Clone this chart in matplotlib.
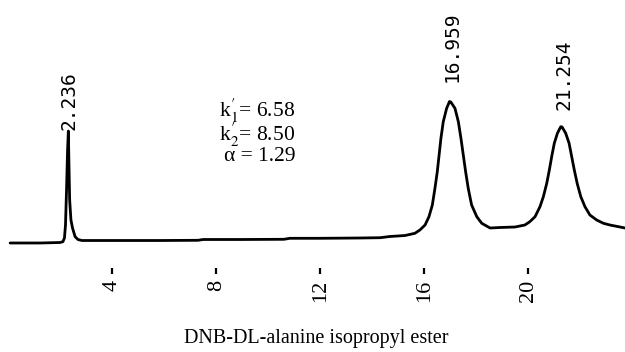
import numpy as np
import matplotlib
matplotlib.use("Agg")
import matplotlib.pyplot as plt

# retention time (min) and detector response (arbitrary units)
time = [0.07, 1.22, 1.99, 2.10, 2.16, 2.20, 2.24, 2.28, 2.31, 2.33, 2.36, 2.41,
        2.47, 2.57, 2.68, 2.83, 3.07, 4.30, 5.83, 7.30, 7.49, 8.91, 10.60,
        10.83, 11.99, 13.53, 14.30, 14.68, 15.26, 15.64, 15.83, 16.03, 16.18,
        16.31, 16.41, 16.50, 16.57, 16.64, 16.73, 16.86, 16.97, 17.02, 17.18,
        17.31, 17.41, 17.50, 17.59, 17.69, 17.82, 18.02, 18.21, 18.53, 18.91,
        19.49, 19.68, 19.87, 20.06, 20.26, 20.45, 20.58, 20.71, 20.81, 20.90,
        21.00, 21.12, 21.25, 21.30, 21.44, 21.57, 21.67, 21.77, 21.88, 22.02,
        22.18, 22.37, 22.63, 22.89, 23.14, 23.72]
signal = [0, 0, 0.5, 1.3, 5, 18, 53, 93, 112, 83, 43, 23,
          15, 6.3, 3.5, 2.5, 2.5, 2.5, 2.5, 2.7, 3.5, 3.5, 3.7,
          4.7, 4.7, 5, 5.3, 6.5, 7.5, 9.7, 13, 18, 26.3,
          38, 54.7, 71.3, 88, 104.7, 121.3, 134.7, 141.5, 141, 134.7,
          121.3, 104.7, 88, 71.3, 54.7, 38, 26.3, 19.7, 15, 15.5,
          16, 17, 18, 21.3, 26.3, 36.3, 46.3, 59.7, 73, 86.3,
          99.7, 109.7, 116.3, 116, 109.7, 99.7, 86.3, 73, 59.7, 46.3,
          36.3, 28, 23, 19.7, 18, 15]

peak_times = [2.236, 16.959, 21.254]
peak_heights = [112, 141.5, 116.3]
peak_labels = ["2.236", "16.959", "21.254"]
label_gap = [1.5, 20, 17]  # px above the peak top

xticks = [4, 8, 12, 16, 20]
params = [r"k$_1^{\prime}$= 6.58", r"k$_2^{\prime}$= 8.50", "α = 1.29"]
title = "DNB-DL-alanine isopropyl ester"

plt.rcParams["mathtext.fontset"] = "stix"
plt.rcParams["font.family"] = "Liberation Serif"

fig = plt.figure(figsize=(6.25, 3.52), dpi=100)
ax = fig.add_axes([0, 1 - 268 / 352, 1, 268 / 352])
ax.plot(time, signal, color="black", lw=2.0, solid_joinstyle="round", solid_capstyle="round")
ax.set_xlim(-0.319, 23.72)
ax.set_ylim(-25, 243)

for s in ax.spines.values():
    s.set_visible(False)
ax.set_yticks([])
ax.set_xticks(xticks)
ax.set_xticklabels([str(t) for t in xticks], rotation=90, fontsize=16)
ax.tick_params(axis="x", direction="out", length=4.3, width=1.6, pad=4.0, color="black")

for t, h, lab, g in zip(peak_times, peak_heights, peak_labels, label_gap):
    ax.annotate(lab, (t, h), xytext=(2.2, g * 0.72), textcoords="offset points",
                rotation=90, ha="center", va="bottom", fontsize=14,
                family="DejaVu Sans Mono")

fig.text(295 / 625, 1 - 97 / 352, "\n".join(params), ha="right", va="top",
         multialignment="right", linespacing=0.8, fontsize=15.5)

fig.text(316 / 625, 1 - 339 / 352, title, ha="center", va="center", fontsize=14.5)

fig.savefig("out.png", dpi=100)
